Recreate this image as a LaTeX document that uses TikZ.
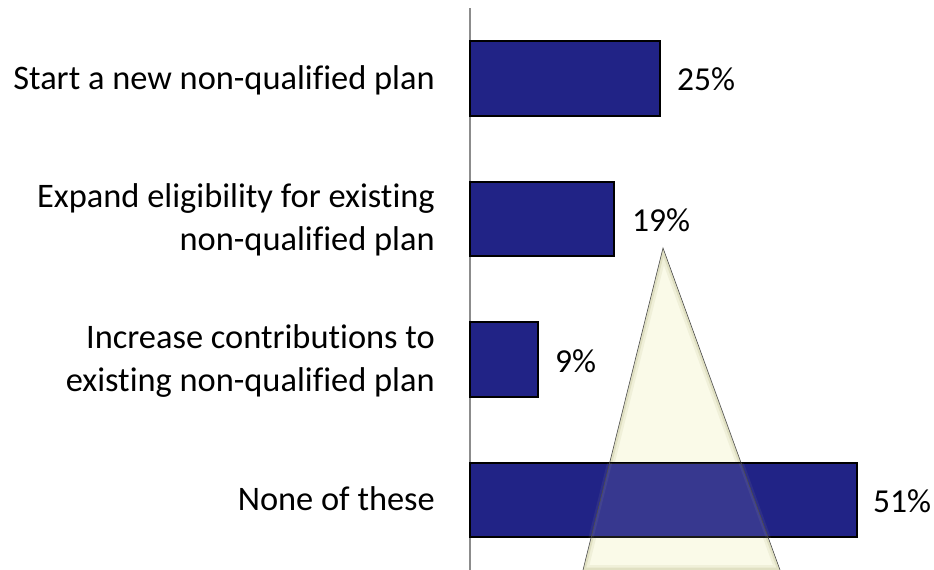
\documentclass[tikz,border=0pt]{standalone}
\usepackage{fontspec}
\setmainfont{Carlito}[Ligatures=NoCommon]
\definecolor{barblue}{RGB}{33,35,134}
\definecolor{cream}{RGB}{250,250,232}
\definecolor{glow}{RGB}{200,200,160}
\definecolor{axisgray}{RGB}{140,140,140}
\begin{document}
\begin{tikzpicture}[x=1pt,y=-1pt,
  bar/.style={draw=black,line width=1.4pt,fill=barblue},
  cat/.style={anchor=base east,inner sep=0pt,align=right,font=\fontsize{34.4}{42.5}\selectfont},
  pct/.style={anchor=base west,inner sep=0pt,font=\fontsize{33.5}{40}\selectfont}]
\useasboundingbox (0,0) rectangle (934,570);
% triangle background
\coordinate (tA) at (663,248);
\coordinate (tL) at (583,570);
\coordinate (tR) at (780,570);
\fill[cream] (tA) -- (tL) -- (tR) -- cycle;
\begin{scope}
  \clip (tA) -- (tL) -- (tR) -- cycle;
  \draw[glow,line width=10pt,opacity=0.2] (tA) -- (tL) -- (tR) -- cycle;
  \draw[glow,line width=5pt,opacity=0.4] (tA) -- (tL) -- (tR) -- cycle;
\end{scope}
% axis
\coordinate (axT) at (470,8);
\coordinate (axB) at (470,570);
\draw[axisgray,line width=2pt] (axT) -- (axB);
% bars
\draw[bar] (470,41) rectangle (660,116) coordinate (b1);
\draw[bar] (470,182) rectangle (614,256) coordinate (b2);
\draw[bar] (470,322) rectangle (538,397) coordinate (b3);
\draw[bar] (470,463) rectangle (857,537) coordinate (b4);
% overlap tint
\begin{scope}
  \clip (470,463) rectangle (857,537);
  \fill[cream,opacity=0.1] (tA) -- (tL) -- (tR) -- cycle;
  \draw[glow,line width=5pt,opacity=0.08] (tA) -- (tL) -- (tR) -- cycle;
\end{scope}
\draw[black!70,line width=0.6pt] (tL) -- (tA) -- (tR);
% category labels
\node[cat] (l1) at (435,89) {Start a new non-qualified plan};
\node[cat] (l2) at (435,250) {Expand eligibility for existing\\non-qualified plan};
\node[cat] (l3) at (435,391) {Increase contributions to\\existing non-qualified plan};
\node[cat] (l4) at (435,510) {None of these};
% percentages
\node[pct] (p1) at (677,90) {25\%};
\node[pct] (p2) at (632,231) {19\%};
\node[pct] (p3) at (555,372) {9\%};
\node[pct] (p4) at (873,512) {51\%};
\end{tikzpicture}
\end{document}
